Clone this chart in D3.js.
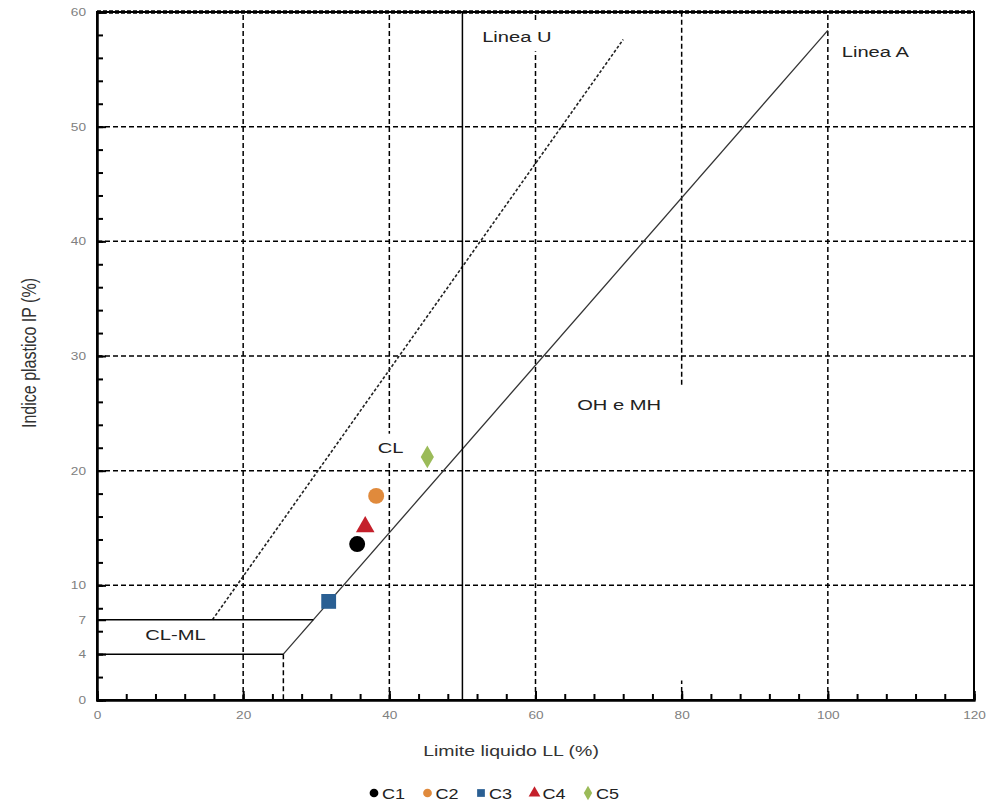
<!DOCTYPE html>
<html>
<head>
<meta charset="utf-8">
<script src="https://cdn.jsdelivr.net/npm/d3@7"></script>
<style>
  body { margin: 0; background: #fff; }
  svg { font-family: "Liberation Sans", Arial, sans-serif; }
</style>
</head>
<body>
<svg id="chart" width="986" height="804"></svg>
<script>
// samples
const sampleNames = ["C1", "C2", "C3", "C4", "C5"];
const sampleLL = [35.6, 38.2, 31.7, 36.7, 45.2];
const sampleIP = [13.6, 17.8, 8.6, 15.1, 21.2];
const sampleColors = ["#000000", "#e08a3c", "#2a5f93", "#c4202b", "#9bbb59"];
const sampleSymbols = [d3.symbolCircle, d3.symbolCircle, d3.symbolSquare, d3.symbolTriangle, d3.symbolDiamond];

// plasticity chart lines [LL, IP]
const lineA = [[25.5, 4], [100, 58.4]];
const lineU = [[15.8, 7], [72, 57.6]];
const lineU50 = [[50, 0], [50, 60]];
const clml4 = [[0, 4], [25.5, 4]];
const clml7 = [[0, 7], [29.6, 7]];
const drop4 = [[25.5, 4], [25.5, 0]];

// ticks and grid
const xTicks = [0, 20, 40, 60, 80, 100, 120];
const yTicks = [0, 4, 7, 10, 20, 30, 40, 50, 60];
const xMinor = d3.range(0, 121, 4);
const yMinor = d3.range(0, 61, 2);
const xGrid = [20, 40, 60, 80, 100];
const yGrid = [10, 20, 30, 40, 50];
const xGridGaps = { 80: [1.7, 27.5] };

// zone labels [text, LL, IP, white box]
const zoneLabels = [
  ["Linea U", 52.7, 57.4, true],
  ["Linea A", 101.9, 56.1, false],
  ["CL", 38.4, 21.5, true],
  ["OH e MH", 65.7, 25.3, false],
  ["CL-ML", 6.6, 5.2, false]
];

const mLeft = 97, mRight = 974, mTop = 12, mBottom = 700;
const sx = 1.3;

const svg = d3.select("#chart");
const x = d3.scaleLinear().domain([0, 120]).range([mLeft, mRight]);
const y = d3.scaleLinear().domain([0, 60]).range([mBottom, mTop]);
const line = d3.line().x(d => x(d[0])).y(d => y(d[1]));

// grid
xGrid.forEach(v => {
  const segs = xGridGaps[v] ? [[0, xGridGaps[v][0]], [xGridGaps[v][1], 60]] : [[0, 60]];
  segs.forEach(s => {
    svg.append("line")
      .attr("x1", x(v)).attr("x2", x(v))
      .attr("y1", y(s[0])).attr("y2", y(s[1]))
      .attr("stroke", "#000").attr("stroke-width", 1.5)
      .attr("stroke-dasharray", "5,3");
  });
});
svg.selectAll(".gy").data(yGrid).enter().append("line")
  .attr("x1", mLeft).attr("x2", mRight)
  .attr("y1", d => y(d)).attr("y2", d => y(d))
  .attr("stroke", "#000").attr("stroke-width", 1.5)
  .attr("stroke-dasharray", "5,3");

// label layer (white boxes hide the grid)
const labelG = svg.append("g");

// chart lines
svg.append("path").attr("d", line(lineA)).attr("fill", "none").attr("stroke", "#333").attr("stroke-width", 1.3);
svg.append("path").attr("d", line(lineU)).attr("fill", "none").attr("stroke", "#222").attr("stroke-width", 1.6).attr("stroke-dasharray", "3,2");
svg.append("path").attr("d", line(lineU50)).attr("fill", "none").attr("stroke", "#000").attr("stroke-width", 1.5);
svg.append("path").attr("d", line(clml4)).attr("fill", "none").attr("stroke", "#000").attr("stroke-width", 1.5);
svg.append("path").attr("d", line(clml7)).attr("fill", "none").attr("stroke", "#000").attr("stroke-width", 1.5);
svg.append("path").attr("d", line(drop4)).attr("fill", "none").attr("stroke", "#000").attr("stroke-width", 1.5).attr("stroke-dasharray", "5,3");

// frame
svg.append("rect").attr("x", mLeft).attr("y", mTop).attr("width", mRight - mLeft).attr("height", mBottom - mTop)
  .attr("fill", "none").attr("stroke", "#000").attr("stroke-width", 2);
svg.append("line").attr("x1", mLeft).attr("x2", mRight).attr("y1", mTop).attr("y2", mTop)
  .attr("stroke", "#000").attr("stroke-width", 3.5).attr("stroke-dasharray", "4,2");

// axes
const gx = svg.append("g").attr("transform", `translate(0,${mBottom})`)
  .call(d3.axisBottom(x).tickValues(xTicks).tickSize(-9).tickPadding(12));
svg.append("g").attr("transform", `translate(0,${mBottom})`)
  .call(d3.axisBottom(x).tickValues(xMinor).tickSize(-6).tickFormat(""));
const gy = svg.append("g").attr("transform", `translate(${mLeft},0)`)
  .call(d3.axisLeft(y).tickValues(yTicks).tickSize(-9).tickPadding(11));
svg.append("g").attr("transform", `translate(${mLeft},0)`)
  .call(d3.axisLeft(y).tickValues(yMinor).tickSize(-6).tickFormat(""));
svg.selectAll(".domain").attr("stroke", "#000").attr("stroke-width", 2);
svg.selectAll(".tick line").attr("stroke", "#000").attr("stroke-width", 2);
svg.selectAll(".tick text").attr("fill", "#808080").attr("font-size", 10.5)
  .attr("font-family", "'Liberation Sans', Arial, sans-serif");
gx.selectAll(".tick text").attr("transform", `scale(${sx},1)`);
gy.selectAll(".tick text").attr("transform", `scale(${sx},1)`).attr("x", -11 / sx);

// zone labels
zoneLabels.forEach(l => {
  const t = labelG.append("text")
    .attr("transform", `translate(${x(l[1])},${y(l[2])}) scale(${sx},1)`)
    .attr("font-size", 15.5).attr("fill", "#222").text(l[0]);
  if (l[3]) {
    const b = t.node().getBBox();
    labelG.insert("rect", "text")
      .attr("x", x(l[1]) - 6).attr("y", y(l[2]) + b.y - 6)
      .attr("width", b.width * sx + 12).attr("height", b.height + 12)
      .attr("fill", "#fff");
  }
});

// points
svg.selectAll(".pt").data(sampleNames).enter().append("path")
  .attr("transform", (d, i) => `translate(${x(sampleLL[i])},${y(sampleIP[i])})`)
  .attr("d", (d, i) => d3.symbol().type(sampleSymbols[i]).size(i === 2 ? 220 : (i > 2 ? 150 : 200))())
  .attr("fill", (d, i) => sampleColors[i]);

// axis titles
svg.append("text").attr("transform", `translate(511,756) scale(${sx},1)`)
  .attr("text-anchor", "middle").attr("font-size", 15).attr("fill", "#333")
  .text("Limite liquido LL (%)");
svg.append("text").attr("transform", `translate(36,353) scale(${sx},1) rotate(-90)`)
  .attr("text-anchor", "middle").attr("font-size", 16).attr("fill", "#333")
  .text("Indice plastico IP (%)");

// legend
const lg = svg.append("g").attr("transform", "translate(374,793)");
const item = lg.selectAll("g").data(sampleNames).enter().append("g")
  .attr("transform", (d, i) => `translate(${i * 53.5},0)`);
item.append("path")
  .attr("d", (d, i) => d3.symbol().type(sampleSymbols[i]).size(60)())
  .attr("fill", (d, i) => sampleColors[i]);
item.append("text").attr("transform", `translate(8,5.5) scale(1.2,1)`)
  .attr("font-size", 15).attr("fill", "#222").text(d => d);
</script>
</body>
</html>
